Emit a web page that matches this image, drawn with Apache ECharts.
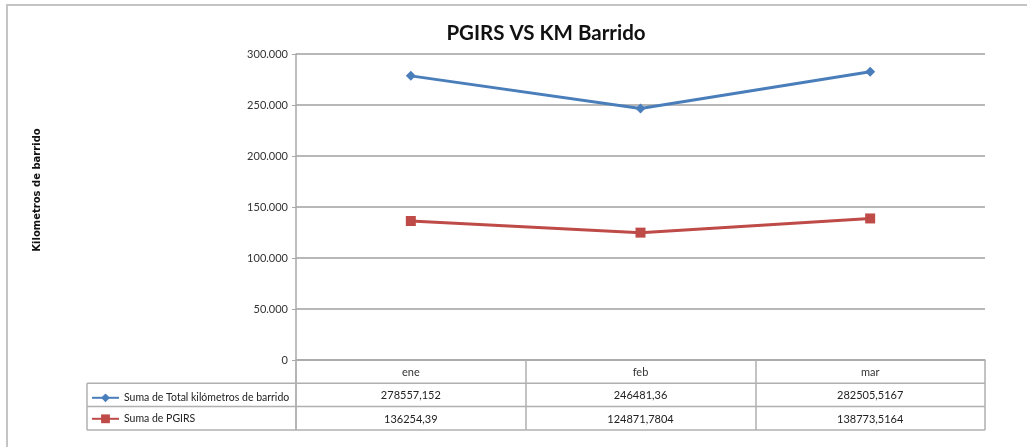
<!DOCTYPE html>
<html>
<head>
<meta charset="utf-8">
<script src="https://cdn.jsdelivr.net/npm/echarts@6/dist/echarts.min.js"></script>
<style>
  html, body { margin: 0; padding: 0; background: #fff; }
  #main { width: 1027px; height: 447px; }
</style>
</head>
<body>
<div id="main"></div>
<script>
// datos del grafico
var meses = ["ene", "feb", "mar"];
var kmBarrido = [278557.152, 246481.36, 282505.5167];
var pgirs = [136254.39, 124871.7804, 138773.5164];
var nombreKm = "Suma de Total kilómetros de barrido";
var nombrePgirs = "Suma de PGIRS";

// geometria del area de trazado
var gLeft = 296, gRight = 985, gTop = 54, gBottom = 360;
var rowH = 23.3;
var tableLeft = 87;

var fuente = "Lato";

function coma(v) {
  return String(v).replace(".", ",");
}

var mc = echarts.init(document.getElementById("main"));

var lineaTabla = { stroke: "#b0b0b0", lineWidth: 1.5 };

var option = {
  animation: false,
  backgroundColor: "#fff",
  title: {
    text: "PGIRS VS KM Barrido",
    left: 541,
    top: 18,
    textAlign: "center",
    textStyle: { fontFamily: fuente, fontSize: 20.5, fontWeight: "bold", color: "#111" }
  },
  legend: {
    orient: "vertical",
    left: tableLeft - 1,
    top: gBottom + rowH + 4,
    itemGap: 10,
    itemWidth: 27,
    itemHeight: 11,
    textStyle: { fontFamily: fuente, fontSize: 10.5, color: "#222" },
    data: [nombreKm, nombrePgirs]
  },
  grid: {
    left: gLeft,
    top: gTop,
    width: gRight - gLeft,
    height: gBottom - gTop
  },
  xAxis: [
    {
      type: "category",
      data: meses,
      boundaryGap: true,
      axisLine: { lineStyle: { color: "#a8a8a8", width: 1.5 } },
      axisTick: { show: true, interval: 0, length: rowH * 3, lineStyle: { color: "#b0b0b0", width: 1.5 } },
      axisLabel: { fontFamily: fuente, fontSize: 11, color: "#333", margin: 7 }
    },
    {
      type: "category",
      data: kmBarrido.map(coma),
      position: "bottom",
      offset: rowH,
      axisLine: { show: false },
      axisTick: { show: false },
      axisLabel: { fontFamily: fuente, fontSize: 11, color: "#222", margin: 7 }
    },
    {
      type: "category",
      data: pgirs.map(coma),
      position: "bottom",
      offset: rowH * 2,
      axisLine: { show: false },
      axisTick: { show: false },
      axisLabel: { fontFamily: fuente, fontSize: 11, color: "#222", margin: 7 }
    }
  ],
  yAxis: {
    type: "value",
    min: 0,
    max: 300000,
    interval: 50000,
    axisLine: { show: true, lineStyle: { color: "#a8a8a8", width: 1.5 } },
    axisTick: { show: true, length: 4, lineStyle: { color: "#a8a8a8" } },
    axisLabel: {
      fontFamily: fuente,
      fontSize: 11,
      color: "#333",
      margin: 8,
      formatter: function (v) {
        return v === 0 ? "0" : (v / 1000) + ".000";
      }
    },
    splitLine: { lineStyle: { color: "#a0a0a0", width: 1.5 } }
  },
  series: [
    {
      name: nombreKm,
      type: "line",
      data: kmBarrido,
      symbol: "diamond",
      symbolSize: 10,
      lineStyle: { color: "#4a7ebb", width: 3 },
      itemStyle: { color: "#4a7ebb" }
    },
    {
      name: nombrePgirs,
      type: "line",
      data: pgirs,
      symbol: "rect",
      symbolSize: 10,
      lineStyle: { color: "#be4b48", width: 3 },
      itemStyle: { color: "#be4b48" }
    }
  ],
  graphic: [
    // marco exterior
    { type: "rect", shape: { x: 7, y: 5, width: 1060, height: 470 }, style: { fill: "none", stroke: "#c4c4c4", lineWidth: 2 } },
    // titulo del eje
    {
      type: "text",
      x: 37,
      y: 190,
      rotation: Math.PI / 2,
      style: {
        text: "Kilometros de barrido",
        fontFamily: "DejaVu Sans",
        fontSize: 10,
        fontWeight: "bold",
        fill: "#111",
        align: "center",
        verticalAlign: "middle"
      }
    },
    // lineas de la tabla de datos
    { type: "line", shape: { x1: tableLeft, y1: gBottom + rowH, x2: gRight, y2: gBottom + rowH }, style: lineaTabla },
    { type: "line", shape: { x1: tableLeft, y1: gBottom + rowH * 2, x2: gRight, y2: gBottom + rowH * 2 }, style: lineaTabla },
    { type: "line", shape: { x1: tableLeft, y1: gBottom + rowH * 3, x2: gRight, y2: gBottom + rowH * 3 }, style: lineaTabla },
    { type: "line", shape: { x1: tableLeft, y1: gBottom + rowH, x2: tableLeft, y2: gBottom + rowH * 3 }, style: lineaTabla },
    { type: "line", shape: { x1: gLeft, y1: gBottom, x2: gLeft, y2: gBottom + rowH * 3 }, style: lineaTabla }
  ]
};

mc.setOption(option);
</script>
</body>
</html>
